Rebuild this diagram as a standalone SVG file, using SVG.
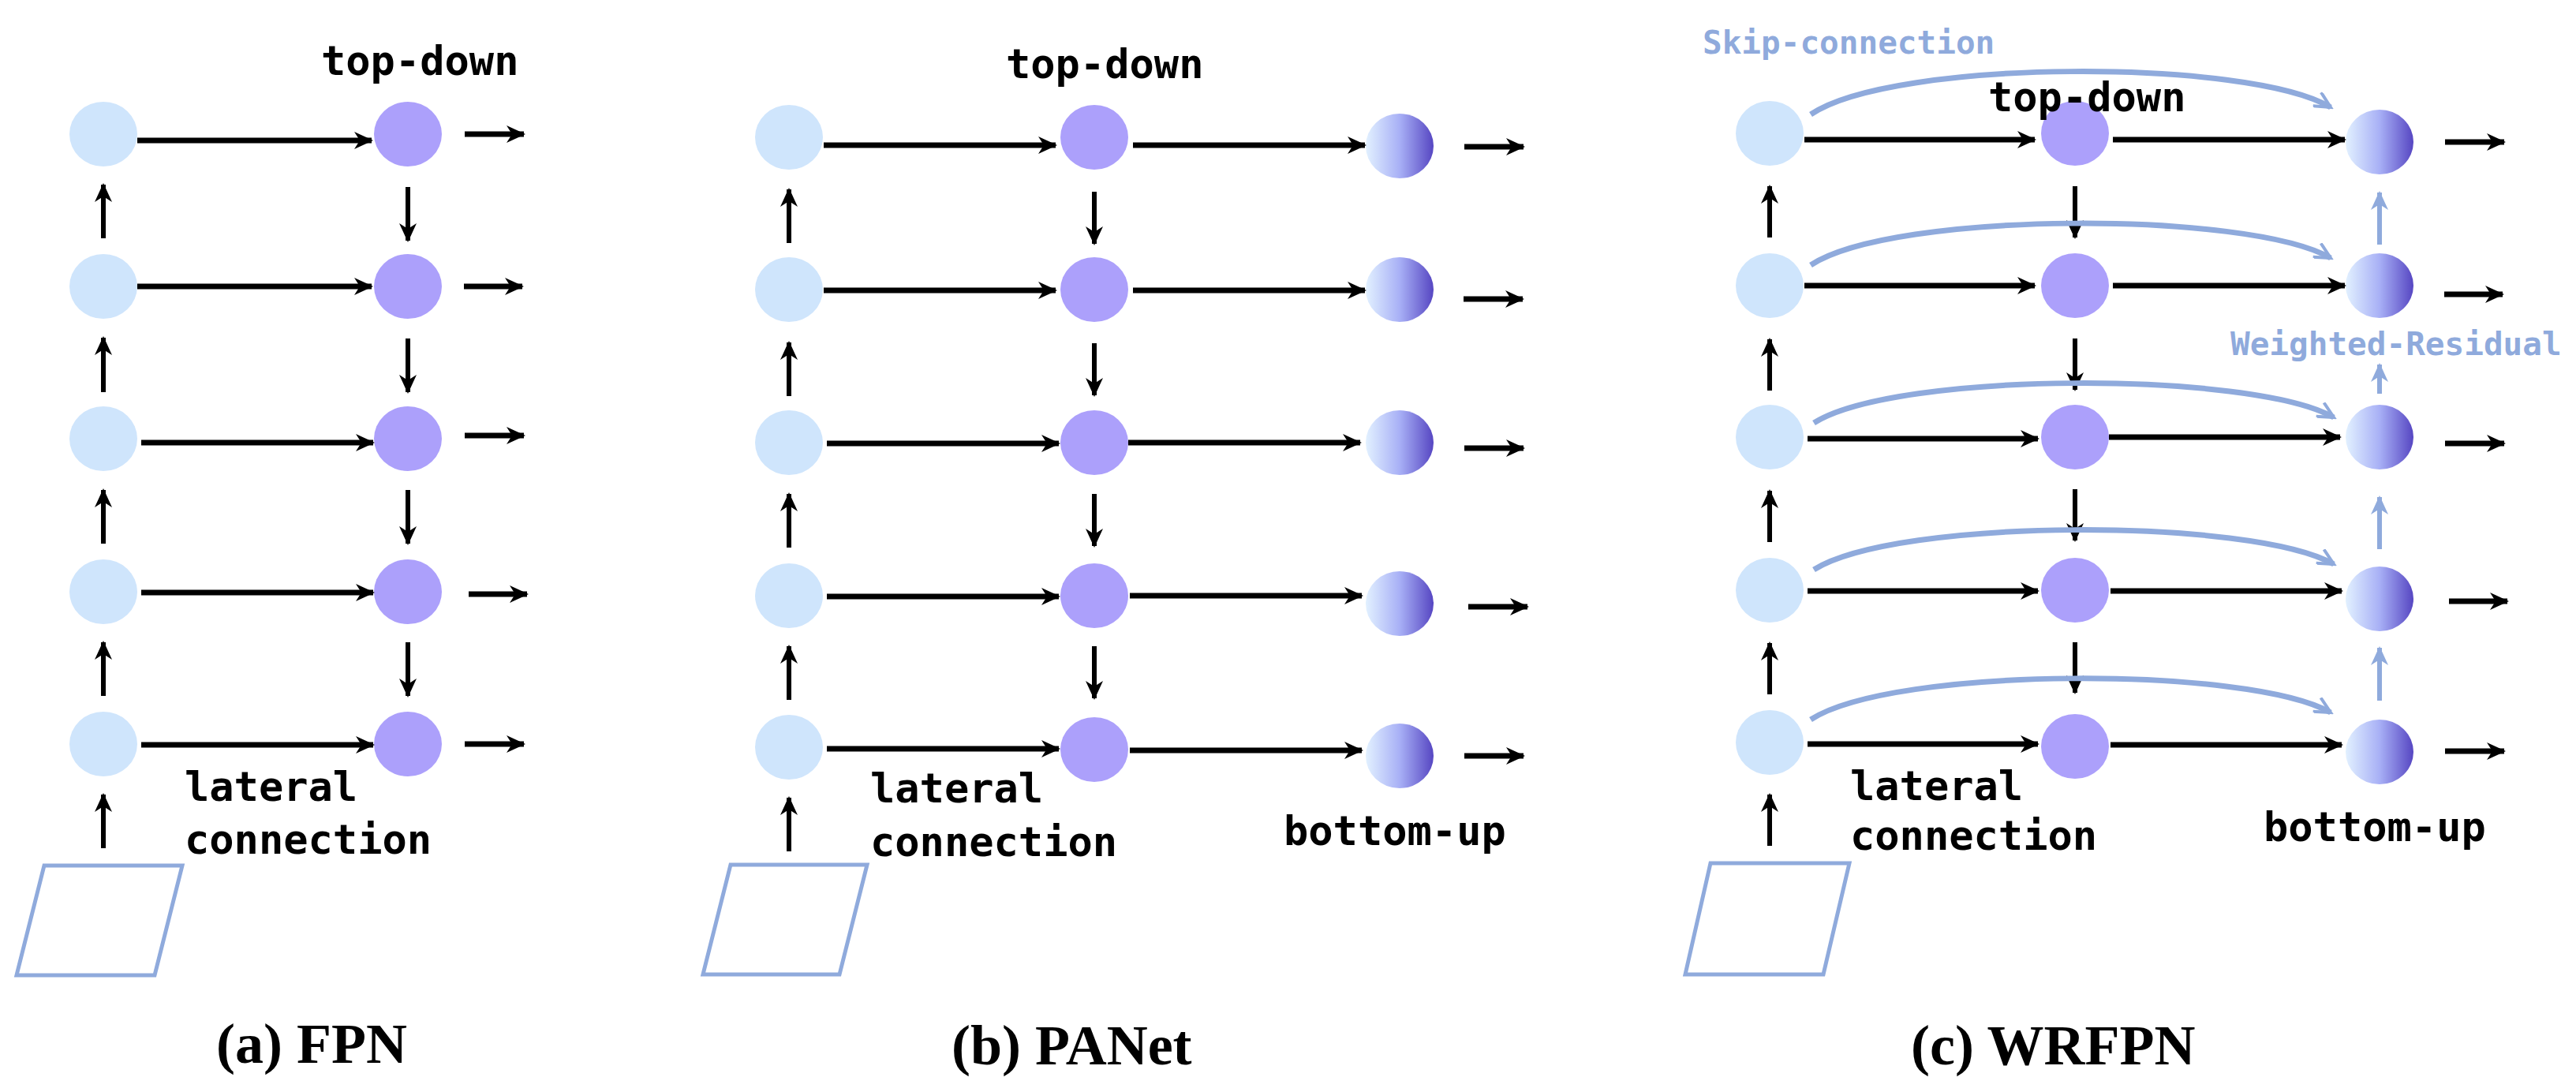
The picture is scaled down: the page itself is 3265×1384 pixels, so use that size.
<svg xmlns="http://www.w3.org/2000/svg" width="3265" height="1384" viewBox="0 0 3265 1384">
<defs>
<marker id="ah" markerUnits="userSpaceOnUse" markerWidth="26" markerHeight="22" refX="22" refY="11" orient="auto"><path d="M0,0 L24,11 L0,22 L7,11 z" fill="#000"/></marker>
<marker id="bh" markerUnits="userSpaceOnUse" markerWidth="26" markerHeight="22" refX="22" refY="11" orient="auto"><path d="M2,1 L22,11 L2,21" fill="none" stroke="#8faadc" stroke-width="4"/></marker>
<marker id="bf" markerUnits="userSpaceOnUse" markerWidth="26" markerHeight="22" refX="22" refY="11" orient="auto"><path d="M0,0 L24,11 L0,22 L7,11 z" fill="#8faadc"/></marker>
<linearGradient id="g" x1="0" x2="1" y1="0" y2="0"><stop offset="0" stop-color="#e2f1ff"/><stop offset="0.5" stop-color="#a8b0f6"/><stop offset="1" stop-color="#5646c2"/></linearGradient>
</defs>
<style>
.l{fill:#cfe5fc}.p{fill:#aca0fb}.r{fill:url(#g)}
.h{stroke:#000;stroke-width:7;fill:none;marker-end:url(#ah)}
.v{stroke:#000;stroke-width:6;fill:none;marker-end:url(#ah)}
.s{stroke:#8faadc;stroke-width:7;fill:none;marker-end:url(#bh)}
.b{stroke:#8faadc;stroke-width:6;fill:none;marker-end:url(#bf)}
.pg{fill:none;stroke:#8faadc;stroke-width:5}
.t{font-family:"DejaVu Sans Mono",monospace;font-weight:bold;font-size:52px;fill:#000}
.tb{font-family:"DejaVu Sans Mono",monospace;font-weight:bold;font-size:41px;fill:#8faadc}
.c{font-family:"Liberation Serif",serif;font-weight:bold;font-size:72px;fill:#000}
</style>
<g id="nodes-a">
<ellipse class="l" cx="131" cy="170" rx="43" ry="41"/><ellipse class="l" cx="131" cy="363" rx="43" ry="41"/><ellipse class="l" cx="131" cy="556" rx="43" ry="41"/><ellipse class="l" cx="131" cy="750" rx="43" ry="41"/><ellipse class="l" cx="131" cy="943" rx="43" ry="41"/>
<ellipse class="p" cx="517" cy="170" rx="43" ry="41"/><ellipse class="p" cx="517" cy="363" rx="43" ry="41"/><ellipse class="p" cx="517" cy="556" rx="43" ry="41"/><ellipse class="p" cx="517" cy="750" rx="43" ry="41"/><ellipse class="p" cx="517" cy="943" rx="43" ry="41"/>
<polygon class="pg" points="56,1097 231,1097 196,1236 21,1236"/>
</g>
<g id="nodes-b">
<ellipse class="l" cx="1000" cy="174" rx="43" ry="41"/><ellipse class="l" cx="1000" cy="367" rx="43" ry="41"/><ellipse class="l" cx="1000" cy="561" rx="43" ry="41"/><ellipse class="l" cx="1000" cy="755" rx="43" ry="41"/><ellipse class="l" cx="1000" cy="947" rx="43" ry="41"/>
<ellipse class="p" cx="1387" cy="174" rx="43" ry="41"/><ellipse class="p" cx="1387" cy="367" rx="43" ry="41"/><ellipse class="p" cx="1387" cy="561" rx="43" ry="41"/><ellipse class="p" cx="1387" cy="755" rx="43" ry="41"/><ellipse class="p" cx="1387" cy="950" rx="43" ry="41"/>
<ellipse class="r" cx="1774" cy="185" rx="43" ry="41"/><ellipse class="r" cx="1774" cy="367" rx="43" ry="41"/><ellipse class="r" cx="1774" cy="561" rx="43" ry="41"/><ellipse class="r" cx="1774" cy="765" rx="43" ry="41"/><ellipse class="r" cx="1774" cy="958" rx="43" ry="41"/>
<polygon class="pg" points="926,1096 1099,1096 1064,1235 891,1235"/>
</g>
<g id="nodes-c">
<ellipse class="l" cx="2243" cy="169" rx="43" ry="41"/><ellipse class="l" cx="2243" cy="362" rx="43" ry="41"/><ellipse class="l" cx="2243" cy="554" rx="43" ry="41"/><ellipse class="l" cx="2243" cy="748" rx="43" ry="41"/><ellipse class="l" cx="2243" cy="941" rx="43" ry="41"/>
<ellipse class="p" cx="2630" cy="169" rx="43" ry="41"/><ellipse class="p" cx="2630" cy="362" rx="43" ry="41"/><ellipse class="p" cx="2630" cy="554" rx="43" ry="41"/><ellipse class="p" cx="2630" cy="748" rx="43" ry="41"/><ellipse class="p" cx="2630" cy="946" rx="43" ry="41"/>
<ellipse class="r" cx="3016" cy="180" rx="43" ry="41"/><ellipse class="r" cx="3016" cy="362" rx="43" ry="41"/><ellipse class="r" cx="3016" cy="554" rx="43" ry="41"/><ellipse class="r" cx="3016" cy="759" rx="43" ry="41"/><ellipse class="r" cx="3016" cy="953" rx="43" ry="41"/>
<polygon class="pg" points="2168,1094 2344,1094 2311,1235 2136,1235"/>
</g>
<g id="connectors">
<!-- panel a -->
<path class="h" d="M174,178 H471"/><path class="h" d="M174,363 H471"/><path class="h" d="M179,561 H473"/><path class="h" d="M179,751 H473"/><path class="h" d="M179,944 H473"/>
<path class="h" d="M589,170 H664"/><path class="h" d="M588,363 H662"/><path class="h" d="M589,552 H664"/><path class="h" d="M594,753 H668"/><path class="h" d="M589,943 H664"/>
<path class="v" d="M131,302 V234"/><path class="v" d="M131,497 V428"/><path class="v" d="M131,689 V621"/><path class="v" d="M131,882 V814"/><path class="v" d="M131,1075 V1007"/>
<path class="v" d="M517,237 V305"/><path class="v" d="M517,429 V497"/><path class="v" d="M517,621 V689"/><path class="v" d="M517,814 V882"/>
<!-- panel b -->
<path class="h" d="M1044,184 H1338"/><path class="h" d="M1044,368 H1338"/><path class="h" d="M1048,562 H1342"/><path class="h" d="M1048,756 H1342"/><path class="h" d="M1048,949 H1342"/>
<path class="h" d="M1436,184 H1730"/><path class="h" d="M1436,368 H1730"/><path class="h" d="M1430,561 H1724"/><path class="h" d="M1432,755 H1726"/><path class="h" d="M1432,951 H1726"/>
<path class="h" d="M1856,186 H1931"/><path class="h" d="M1855,379 H1930"/><path class="h" d="M1856,568 H1931"/><path class="h" d="M1861,769 H1936"/><path class="h" d="M1856,958 H1931"/>
<path class="v" d="M1000,308 V240"/><path class="v" d="M1000,502 V434"/><path class="v" d="M1000,694 V626"/><path class="v" d="M1000,887 V819"/><path class="v" d="M1000,1079 V1011"/>
<path class="v" d="M1387,243 V309"/><path class="v" d="M1387,435 V501"/><path class="v" d="M1387,626 V692"/><path class="v" d="M1387,819 V885"/>
<!-- panel c -->
<path class="h" d="M2287,177 H2579"/><path class="h" d="M2287,362 H2579"/><path class="h" d="M2291,556 H2583"/><path class="h" d="M2291,749 H2583"/><path class="h" d="M2291,943 H2583"/>
<path class="h" d="M2678,177 H2972"/><path class="h" d="M2678,362 H2972"/><path class="h" d="M2673,554 H2966"/><path class="h" d="M2675,749 H2968"/><path class="h" d="M2675,944 H2968"/>
<path class="h" d="M3099,180 H3174"/><path class="h" d="M3098,373 H3172"/><path class="h" d="M3099,562 H3174"/><path class="h" d="M3104,762 H3178"/><path class="h" d="M3099,952 H3174"/>
<path class="v" d="M2243,301 V236"/><path class="v" d="M2243,495 V430"/><path class="v" d="M2243,687 V622"/><path class="v" d="M2243,880 V815"/><path class="v" d="M2243,1072 V1007"/>
<path class="v" d="M2630,236 V301"/><path class="v" d="M2630,429 V494"/><path class="v" d="M2630,620 V685"/><path class="v" d="M2630,814 V878"/>
<path class="b" d="M3016,310 V244"/><path class="b" d="M3016,499 V462"/><path class="b" d="M3016,696 V630"/><path class="b" d="M3016,888 V821"/>
<path class="s" d="M2295,145 C2400,74 2850,74 2954,136"/>
<path class="s" d="M2295,336 C2400,267 2850,267 2954,327"/>
<path class="s" d="M2299,536 C2404,470 2854,470 2958,529"/>
<path class="s" d="M2299,722 C2404,656 2854,656 2958,715"/>
<path class="s" d="M2295,912 C2400,844 2850,844 2954,903"/>
</g>
<g id="labels">
<text class="t" x="407" y="95">top-down</text>
<text class="t" x="234" y="1015">lateral</text><text class="t" x="234" y="1082">connection</text>
<text class="t" x="1275" y="99">top-down</text>
<text class="t" x="1103" y="1017">lateral</text><text class="t" x="1103" y="1085">connection</text>
<text class="t" x="1627" y="1071">bottom-up</text>
<text class="t" x="2520" y="141">top-down</text>
<text class="t" x="2345" y="1014">lateral</text><text class="t" x="2345" y="1077">connection</text>
<text class="t" x="2869" y="1066">bottom-up</text>
<text class="tb" x="2158" y="68">Skip-connection</text>
<text class="tb" x="2827" y="450">Weighted-Residual</text>
<text class="c" x="274" y="1347">(a) FPN</text>
<text class="c" x="1206" y="1349">(b) PANet</text>
<text class="c" x="2422" y="1349">(c) WRFPN</text>
</g>
</svg>
